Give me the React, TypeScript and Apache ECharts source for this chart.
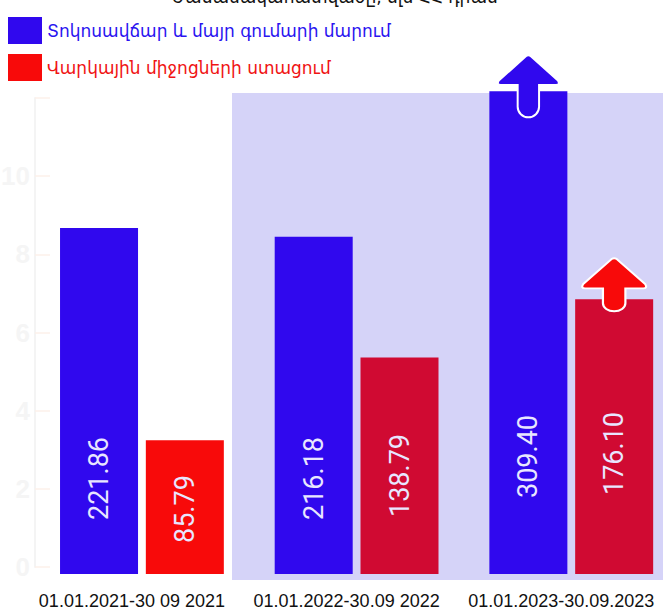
import React, { useEffect, useRef } from "react";
import * as echarts from "echarts";

const categories = ["01.01.2021-30 09 2021", "01.01.2022-30.09 2022", "01.01.2023-30.09.2023"];
const repaymentName = "Տոկոսավճար և մայր գումարի մարում";
const receiptName = "Վարկային միջոցների ստացում";
const repaymentValues = [221.86, 216.18, 309.4];
const receiptValues = [85.79, 138.79, 176.1];
const backgroundTickLabels = [0, 2, 4, 6, 8, 10];
const titleText = "Ժամանակահատվածը, մլն ՀՀ դրամ";

const BLUE = "#3008EE";
const RED = "#F80A0A";
const CRIMSON = "#D00A32";
const receiptColors = [RED, CRIMSON, CRIMSON];
const repaymentLabelLift = [54, 54, 76];
const receiptLabelLift = [31, 57, 79];

const blueArrow =
  "path://M46 2 Q50 -1 54 2 L97 41 Q101 48 94 48 L67 48 L67 83 A17 17 0 0 1 33 83 L33 48 L6 48 Q-1 48 3 41 Z";
const redArrow =
  "path://M46 2 Q50 -1 54 2 L97 49 Q101 57 94 57 L67 57 L67 85 A17 15 0 0 1 33 85 L33 57 L6 57 Q-1 57 3 49 Z";

export default function App() {
  const ref = useRef<HTMLDivElement>(null);
  useEffect(() => {
    document.body.style.margin = "0";
    const chart = echarts.init(ref.current!, null, { renderer: "svg" });
    const barLabel = (lift: number) => ({
      show: true,
      position: "insideBottom",
      distance: lift,
      rotate: 90,
      align: "left",
      verticalAlign: "middle",
      color: "#E8E6FF",
      fontSize: 27,
      fontFamily: "Roboto",
      formatter: (p: any) => Number(p.value).toFixed(2),
    });
    chart.setOption({
      animation: false,
      backgroundColor: "#ffffff",
      legend: {
        orient: "vertical",
        left: 3,
        top: 12,
        itemWidth: 34,
        itemHeight: 27,
        itemGap: 10,
        icon: "rect",
        selectedMode: false,
        textStyle: { fontSize: 17, fontFamily: "DejaVu Sans" },
        data: [
          { name: repaymentName, textStyle: { color: "#2A14F0" } },
          { name: receiptName, textStyle: { color: "#F01414" } },
        ],
      },
      graphic: {
        elements: [
          {
            type: "rect",
            z: -10,
            shape: { x: 232, y: 93, width: 431, height: 487 },
            style: { fill: "#D5D3F8" },
          },
          {
            type: "text",
            z: 5,
            x: 335,
            y: -12,
            style: {
              text: titleText,
              fill: "#111",
              font: '17px "DejaVu Sans"',
              textAlign: "center",
              textVerticalAlign: "top",
            },
          },
        ],
      },
      grid: [
        { left: 34.6, top: 28, width: 644, height: 546, outerBoundsMode: "none", containLabel: false },
        { left: 35, top: 98, width: 10, height: 469, outerBoundsMode: "none", containLabel: false },
      ],
      xAxis: [
        {
          type: "category",
          gridIndex: 0,
          data: categories,
          axisLine: { show: false },
          axisTick: { show: false },
          axisLabel: {
            interval: 0,
            hideOverlap: false,
            color: "#111",
            fontSize: 18,
            fontFamily: "Liberation Sans",
            margin: 18,
            padding: [0, 20, 0, 0],
          },
        },
        { type: "category", gridIndex: 1, data: [""], show: false },
      ],
      yAxis: [
        { type: "value", gridIndex: 0, min: 0, max: 350, show: false },
        {
          type: "value",
          gridIndex: 1,
          min: 0,
          max: 12,
          interval: 2,
          splitLine: { show: false },
          axisLine: { show: true, lineStyle: { color: "#F4F4F4", width: 2 } },
          axisTick: { show: true, inside: true, length: 15, lineStyle: { color: "#FCF0EA", width: 1.5 } },
          axisLabel: {
            margin: 5,
            fontSize: 26,
            fontWeight: "bold",
            fontFamily: "Liberation Sans",
            color: "#F5F5F5",
            formatter: (v: number) => (backgroundTickLabels.includes(v) ? String(v) : ""),
          },
        },
      ],
      series: [
        {
          name: repaymentName,
          type: "bar",
          xAxisIndex: 0,
          yAxisIndex: 0,
          barWidth: 78,
          barGap: "10%",
          itemStyle: { color: BLUE },
          data: repaymentValues.map((v, i) => ({ value: v, label: barLabel(repaymentLabelLift[i]) })),
          markPoint: {
            symbol: blueArrow,
            symbolSize: [61, 62],
            symbolOffset: [0, -5],
            itemStyle: { color: BLUE, borderColor: "#ffffff", borderWidth: 2 },
            label: { show: false },
            data: [{ coord: [2, repaymentValues[2]] }],
          },
        },
        {
          name: receiptName,
          type: "bar",
          xAxisIndex: 0,
          yAxisIndex: 0,
          barWidth: 78,
          barGap: "10%",
          itemStyle: { color: RED },
          data: receiptValues.map((v, i) => ({
            value: v,
            itemStyle: { color: receiptColors[i] },
            label: barLabel(receiptLabelLift[i]),
          })),
          markPoint: {
            symbol: redArrow,
            symbolSize: [64, 53],
            symbolOffset: [0, -14.5],
            itemStyle: { color: RED, borderColor: "#ffffff", borderWidth: 2 },
            label: { show: false },
            data: [{ coord: [2, receiptValues[2]] }],
          },
        },
      ],
    });
    return () => chart.dispose();
  }, []);
  return <div ref={ref} style={{ width: 663, height: 610 }} />;
}
